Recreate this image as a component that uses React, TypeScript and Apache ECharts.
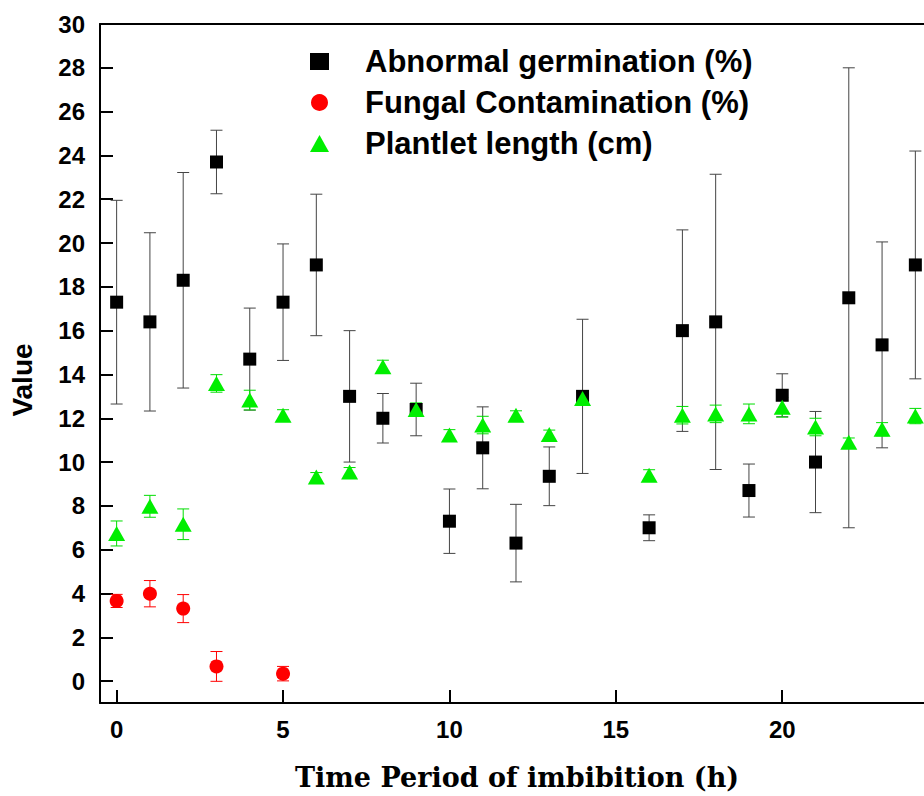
import { useEffect, useRef } from "react";
import * as echarts from "echarts";

// ---- data ----
const abnormalTime = [0, 1, 2, 3, 4, 5, 6, 7, 8, 9, 10, 11, 12, 13, 14, 16, 17, 18, 19, 20, 21, 22, 23, 24];
const abnormalMean = [17.3, 16.4, 18.3, 23.7, 14.7, 17.3, 19.0, 13.0, 12.0, 12.4, 7.3, 10.65, 6.3, 9.35, 13.0, 7.0, 16.0, 16.4, 8.7, 13.05, 10.0, 17.5, 15.35, 19.0];
const abnormalSD = [4.65, 4.07, 4.92, 1.45, 2.33, 2.66, 3.23, 3.0, 1.13, 1.2, 1.47, 1.87, 1.77, 1.34, 3.52, 0.59, 4.6, 6.74, 1.21, 0.98, 2.31, 10.5, 4.7, 5.2];

const fungalTime = [0, 1, 2, 3, 5];
const fungalMean = [3.66, 3.99, 3.31, 0.67, 0.34];
const fungalSD = [0.3, 0.6, 0.64, 0.68, 0.33];

const plantletTime = [0, 1, 2, 3, 4, 5, 6, 7, 8, 9, 10, 11, 12, 13, 14, 16, 17, 18, 19, 20, 21, 22, 23, 24];
const plantletMean = [6.74, 7.98, 7.16, 13.59, 12.83, 12.14, 9.32, 9.55, 14.35, 12.4, 11.23, 11.69, 12.14, 11.26, 12.9, 9.4, 12.14, 12.2, 12.2, 12.5, 11.6, 10.9, 11.5, 12.1];
const plantletSD = [0.57, 0.5, 0.7, 0.4, 0.45, 0.25, 0.2, 0.2, 0.3, 0.3, 0.25, 0.4, 0.2, 0.2, 0.3, 0.25, 0.4, 0.4, 0.45, 0.45, 0.4, 0.2, 0.3, 0.35];

const seriesNames = ["Abnormal germination (%)", "Fungal Contamination (%)", "Plantlet length (cm)"];
const xTicks = [0, 5, 10, 15, 20];
const yLabels = [0, 2, 4, 6, 8, 10, 12, 14, 16, 18, 20, 22, 24, 26, 28, 30];
const yTicks = [0, 2, 4, 6, 8, 10, 12, 14, 16, 18, 20, 22, 24, 26, 28];

const xTitle = "Time Period of imbibition (h)";
const yTitle = "Value";

const SANS = '"Liberation Sans", Arial, sans-serif';
const SERIF = '"DejaVu Serif", serif';

function errData(t: number[], m: number[], s: number[]) {
  return t.map((x, i) => [x, m[i], m[i] - s[i], m[i] + s[i]]);
}
function pointData(t: number[], m: number[]) {
  return t.map((x, i) => [x, m[i]]);
}

function errorBars(data: number[][], color: string, capHalf: number) {
  return {
    type: "custom",
    silent: true,
    z: 1,
    clip: false,
    encode: { x: 0, y: [1, 2, 3] },
    data,
    renderItem: (_params: any, api: any) => {
      const x = api.value(0);
      const lo = api.value(2);
      const hi = api.value(3);
      const top = api.coord([x, hi]);
      const bot = api.coord([x, lo]);
      const style = { stroke: color, lineWidth: 1 };
      return {
        type: "group",
        children: [
          { type: "line", shape: { x1: top[0], y1: top[1], x2: bot[0], y2: bot[1] }, style },
          { type: "line", shape: { x1: top[0] - capHalf, y1: top[1], x2: top[0] + capHalf, y2: top[1] }, style },
          { type: "line", shape: { x1: bot[0] - capHalf, y1: bot[1], x2: bot[0] + capHalf, y2: bot[1] }, style },
        ],
      };
    },
  };
}

export default function App() {
  const ref = useRef<HTMLDivElement>(null);
  useEffect(() => {
    if (!ref.current) return;
    const chart = echarts.init(ref.current, undefined, { renderer: "svg" });
    const axisLabelStyle = { fontFamily: SANS, fontWeight: "bold", fontSize: 24, color: "#000" };
    chart.setOption({
      animation: false,
      backgroundColor: "#fff",
      grid: { left: 100, top: 24, right: 0, bottom: 93, outerBoundsMode: "none", containLabel: false },
      legend: {
        orient: "vertical",
        left: 305,
        top: 41,
        itemWidth: 19,
        itemHeight: 17,
        itemGap: 10,
        selectedMode: false,
        data: [
          { name: seriesNames[0], icon: "rect" },
          { name: seriesNames[1], icon: "circle" },
          { name: seriesNames[2], icon: "triangle" },
        ],
        textStyle: { fontFamily: SANS, fontWeight: "bold", fontSize: 31, color: "#000", lineHeight: 30, padding: [0, 0, 0, 31] },
      },
      xAxis: [
        {
          type: "value",
          min: -0.5,
          max: 24.26,
          axisLine: { show: true, onZero: false, lineStyle: { color: "#000", width: 2 } },
          axisTick: { show: true, inside: true, length: 13, customValues: xTicks, lineStyle: { color: "#000", width: 2 } },
          axisLabel: { ...axisLabelStyle, margin: 14, customValues: xTicks },
          splitLine: { show: false },
        },
        {
          type: "value",
          position: "top",
          min: -0.5,
          max: 24.26,
          axisLine: { show: true, onZero: false, lineStyle: { color: "#000", width: 2 } },
          axisTick: { show: false },
          axisLabel: { show: false },
          splitLine: { show: false },
        },
      ],
      yAxis: {
        type: "value",
        min: -1,
        max: 30,
        axisLine: { show: true, onZero: false, lineStyle: { color: "#000", width: 2 } },
        axisTick: { show: true, inside: true, length: 13, customValues: yTicks, lineStyle: { color: "#000", width: 2 } },
        axisLabel: { ...axisLabelStyle, margin: 15, customValues: yLabels },
        splitLine: { show: false },
      },
      graphic: [
        {
          type: "text",
          x: 22,
          y: 380,
          rotation: Math.PI / 2,
          style: { text: yTitle, font: `bold 28px ${SANS}`, fill: "#000", align: "center", verticalAlign: "middle" },
        },
        {
          type: "text",
          x: 517,
          y: 777,
          style: { text: xTitle, font: `bold 27px ${SERIF}`, fill: "#000", align: "center", verticalAlign: "middle" },
        },
      ],
      series: [
        errorBars(errData(abnormalTime, abnormalMean, abnormalSD), "#444", 6),
        errorBars(errData(fungalTime, fungalMean, fungalSD), "#ff0000", 6),
        errorBars(errData(plantletTime, plantletMean, plantletSD), "#00dd00", 6),
        {
          name: seriesNames[0],
          type: "scatter",
          symbol: "rect",
          symbolSize: 13,
          itemStyle: { color: "#000", opacity: 1 },
          data: pointData(abnormalTime, abnormalMean),
          z: 2,
        },
        {
          name: seriesNames[1],
          type: "scatter",
          symbol: "circle",
          symbolSize: 14,
          itemStyle: { color: "#ff0000", opacity: 1 },
          data: pointData(fungalTime, fungalMean),
          z: 3,
        },
        {
          name: seriesNames[2],
          type: "scatter",
          symbol: "triangle",
          symbolSize: [17, 15],
          itemStyle: { color: "#00ee00", opacity: 1 },
          data: pointData(plantletTime, plantletMean),
          z: 4,
        },
      ],
    });
    return () => chart.dispose();
  }, []);
  return <div ref={ref} style={{ position: "fixed", left: 0, top: 0, width: 924, height: 796 }} />;
}
